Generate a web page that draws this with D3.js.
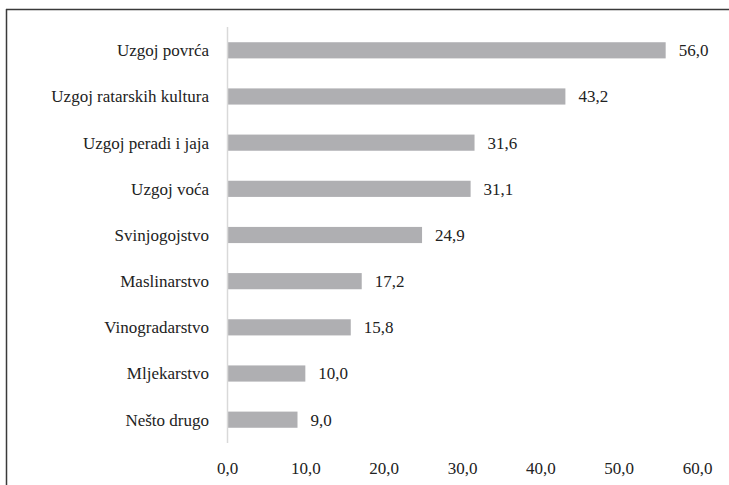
<!DOCTYPE html>
<html>
<head>
<meta charset="utf-8">
<script src="https://cdn.jsdelivr.net/npm/d3@7"></script>
<style>
  body { margin: 0; background: #fff; }
  svg text { font-family: "Liberation Serif", Tinos, "Times New Roman", "DejaVu Serif", serif; }
</style>
</head>
<body>
<svg id="chart"></svg>
<script>
const categories = [
  "Uzgoj povrća",
  "Uzgoj ratarskih kultura",
  "Uzgoj peradi i jaja",
  "Uzgoj voća",
  "Svinjogojstvo",
  "Maslinarstvo",
  "Vinogradarstvo",
  "Mljekarstvo",
  "Nešto drugo",
];
const values = [56.0, 43.2, 31.6, 31.1, 24.9, 17.2, 15.8, 10.0, 9.0];
const xTicks = [0, 10, 20, 30, 40, 50, 60];

const W = 729, H = 485;
const margin = { top: 27, right: 32, bottom: 42, left: 227 };
const width = W - margin.left - margin.right;
const height = H - margin.top - margin.bottom;
const fmt = (v) => v.toFixed(1).replace(".", ",");

const root = d3.select("#chart").attr("width", W).attr("height", H);

// frame (top and left edges only visible)
root.append("line").attr("x1", 6).attr("x2", W).attr("y1", 9.5).attr("y2", 9.5)
  .attr("stroke", "#3a3a3a").attr("stroke-width", 1.5);
root.append("line").attr("x1", 6.5).attr("x2", 6.5).attr("y1", 9).attr("y2", H)
  .attr("stroke", "#3a3a3a").attr("stroke-width", 1.5);

const svg = root.append("g")
  .attr("transform", `translate(${margin.left}, ${margin.top})`);

const x = d3.scaleLinear().domain([0, 60]).range([0, width]);
const y = d3.scaleBand().domain(categories).range([0, height]).paddingInner(0.65).paddingOuter(0.33);

const data = categories.map((c, i) => ({ cat: c, val: values[i] }));

svg.selectAll(".bar")
  .data(data)
  .enter()
  .append("rect")
  .attr("x", x(0))
  .attr("y", (d) => y(d.cat))
  .attr("width", (d) => x(d.val) - x(0))
  .attr("height", y.bandwidth())
  .attr("fill", "#afafb2");

svg.selectAll(".val")
  .data(data)
  .enter()
  .append("text")
  .attr("x", (d) => x(d.val) + 13)
  .attr("y", (d) => y(d.cat) + y.bandwidth() / 2)
  .attr("dy", "0.35em")
  .attr("font-size", "17px")
  .attr("fill", "#222")
  .text((d) => fmt(d.val));

// category labels
svg.selectAll(".cat")
  .data(data)
  .enter()
  .append("text")
  .attr("x", -18)
  .attr("y", (d) => y(d.cat) + y.bandwidth() / 2)
  .attr("dy", "0.35em")
  .attr("text-anchor", "end")
  .attr("font-size", "17px")
  .attr("fill", "#222")
  .text((d) => d.cat);

// vertical axis line
svg.append("line")
  .attr("x1", x(0) + 0.5).attr("x2", x(0) + 0.5)
  .attr("y1", 0).attr("y2", height)
  .attr("stroke", "#d9d9d9").attr("stroke-width", 1.5);

// x axis tick labels
const xAxis = svg.append("g")
  .attr("transform", `translate(0, ${height})`)
  .call(d3.axisBottom(x).tickValues(xTicks).tickFormat(fmt).tickSize(0).tickPadding(19));
xAxis.select(".domain").remove();
xAxis.selectAll("text")
  .attr("font-size", "17px")
  .attr("fill", "#222");
</script>
</body>
</html>
